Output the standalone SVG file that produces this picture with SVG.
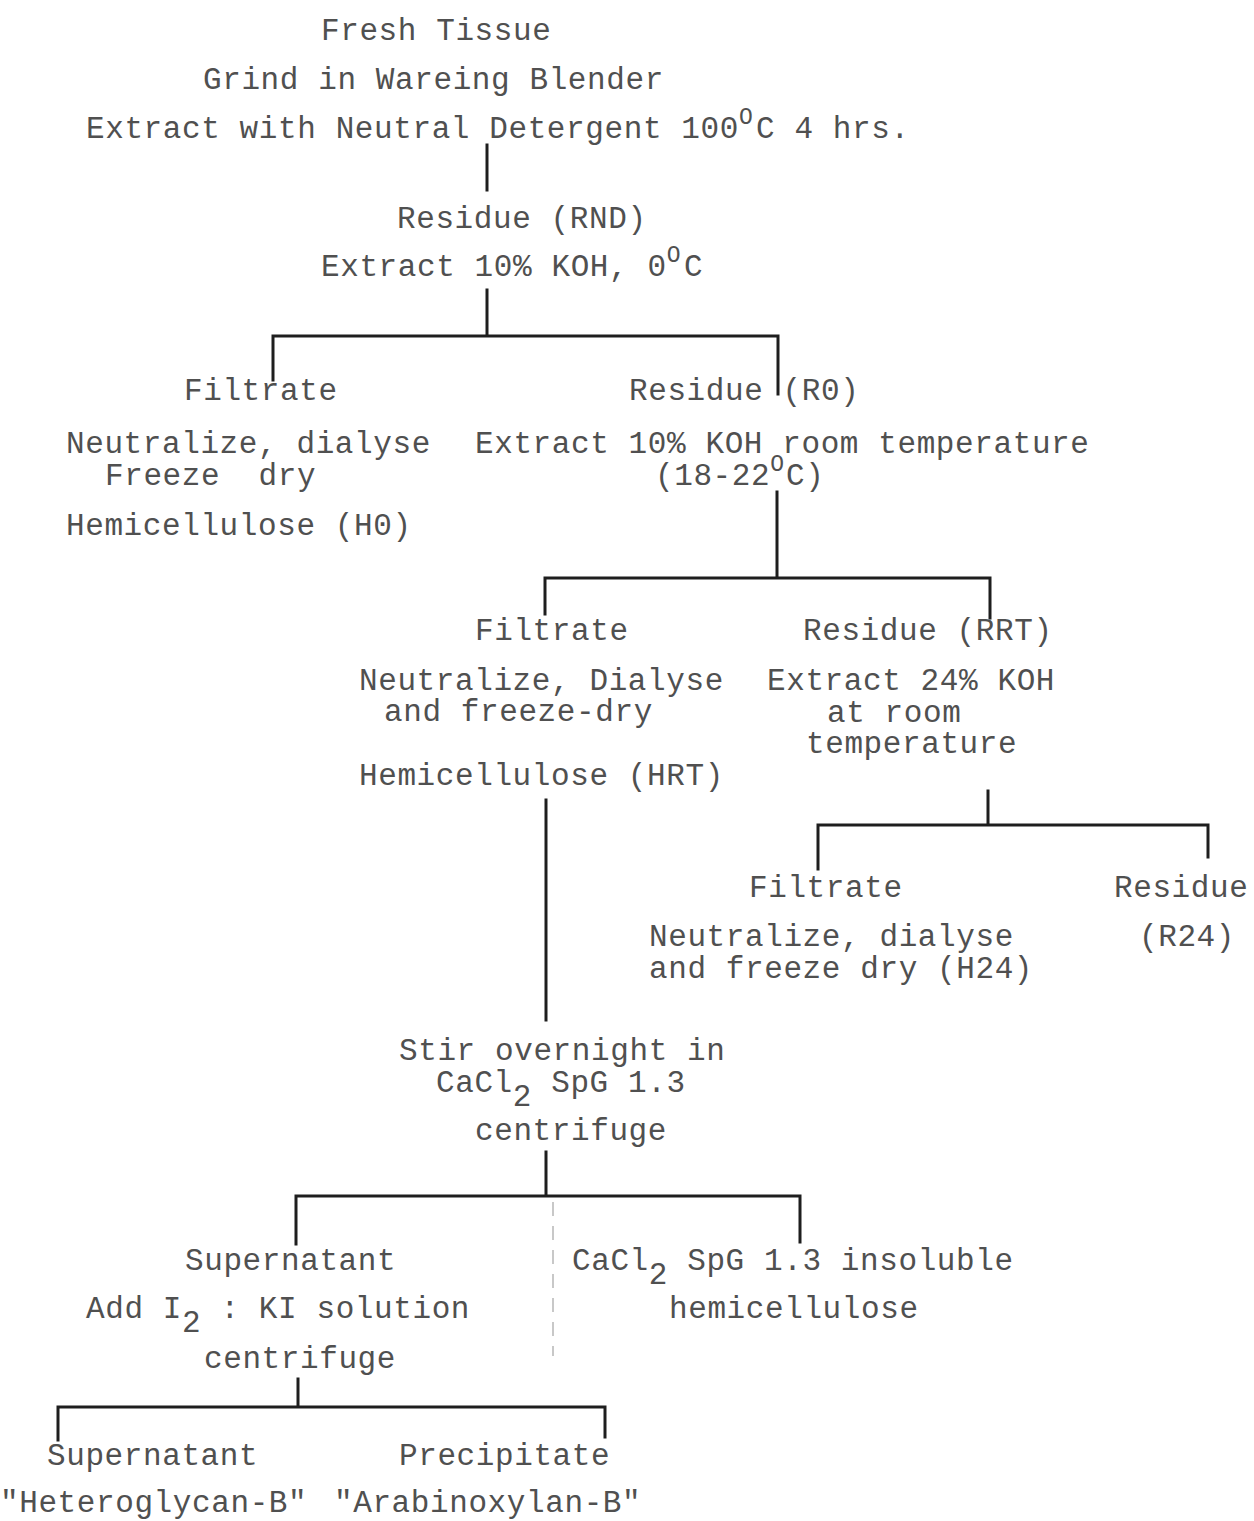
<svg xmlns="http://www.w3.org/2000/svg" width="1254" height="1521" viewBox="0 0 1254 1521">
<style>
text{font-family:"Liberation Mono","DejaVu Sans Mono",monospace;font-size:31px;letter-spacing:0.6px;fill:#505050}
.sup{font-size:23px}
.ln{stroke:#1e1e1e;stroke-width:3;fill:none;stroke-linecap:square}
.faint{stroke:#c8c8c8;stroke-width:2;fill:none;stroke-dasharray:14 10}
</style>
<rect width="1254" height="1521" fill="#ffffff"/>
<g id="connectors">
<path class="ln" d="M487 145V190"/>
<path class="ln" d="M487 290V336M273 380V336H778V394"/>
<path class="ln" d="M777 492V578M545 614V578H990V618"/>
<path class="ln" d="M988 791V825M818 869V825H1208V857"/>
<path class="ln" d="M546 800V1020"/>
<path class="ln" d="M546 1152V1196M296 1244V1196H800V1242"/>
<path class="faint" d="M553 1202V1356"/>
<path class="ln" d="M298 1379V1407M58 1440V1407H605V1437"/>
</g>
<g id="start">
<text x="321" y="40">Fresh Tissue</text>
<text x="203" y="89">Grind in Wareing Blender</text>
<text x="86" y="138">Extract with Neutral Detergent 100<tspan class="sup" dy="-14">O</tspan><tspan x="756" dy="14">C 4 hrs.</tspan></text>
</g>
<g id="residue-rnd">
<text x="397" y="228">Residue (RND)</text>
<text x="321" y="276">Extract 10% KOH, 0<tspan class="sup" dy="-14">O</tspan><tspan x="684" dy="14">C</tspan></text>
</g>
<g id="filtrate-h0">
<text x="184" y="400">Filtrate</text>
<text x="66" y="453">Neutralize, dialyse</text>
<text x="105" y="485" xml:space="preserve">Freeze  dry</text>
<text x="66" y="535">Hemicellulose (H0)</text>
</g>
<g id="residue-r0">
<text x="629" y="400">Residue (R0)</text>
<text x="475" y="453">Extract 10% KOH room temperature</text>
<text x="655" y="485">(18-22<tspan class="sup" dy="-14">O</tspan><tspan x="786" dy="14">C)</tspan></text>
</g>
<g id="filtrate-hrt">
<text x="475" y="640">Filtrate</text>
<text x="359" y="690">Neutralize, Dialyse</text>
<text x="384" y="721">and freeze-dry</text>
<text x="359" y="785">Hemicellulose (HRT)</text>
</g>
<g id="residue-rrt">
<text x="803" y="640">Residue (RRT)</text>
<text x="767" y="690">Extract 24% KOH</text>
<text x="827" y="722">at room</text>
<text x="806" y="753">temperature</text>
</g>
<g id="filtrate-h24">
<text x="749" y="897">Filtrate</text>
<text x="649" y="946">Neutralize, dialyse</text>
<text x="649" y="978">and freeze dry (H24)</text>
</g>
<g id="residue-r24">
<text x="1114" y="897">Residue</text>
<text x="1139" y="946">(R24)</text>
</g>
<g id="cacl2-stir">
<text x="399" y="1060">Stir overnight in</text>
<text x="436" y="1092">CaCl<tspan dy="14">2</tspan><tspan dy="-14"> SpG 1.3</tspan></text>
<text x="475" y="1140">centrifuge</text>
</g>
<g id="supernatant-i2">
<text x="185" y="1270">Supernatant</text>
<text x="86" y="1318">Add I<tspan dy="14">2</tspan><tspan dy="-14"> : KI solution</tspan></text>
<text x="204" y="1368">centrifuge</text>
</g>
<g id="cacl2-insoluble">
<text x="572" y="1270">CaCl<tspan dy="14">2</tspan><tspan dy="-14"> SpG 1.3 insoluble</tspan></text>
<text x="669" y="1318">hemicellulose</text>
</g>
<g id="heteroglycan">
<text x="47" y="1465">Supernatant</text>
<text x="0" y="1512">"Heteroglycan-B"</text>
</g>
<g id="arabinoxylan">
<text x="399" y="1465">Precipitate</text>
<text x="334" y="1512">"Arabinoxylan-B"</text>
</g>
</svg>
